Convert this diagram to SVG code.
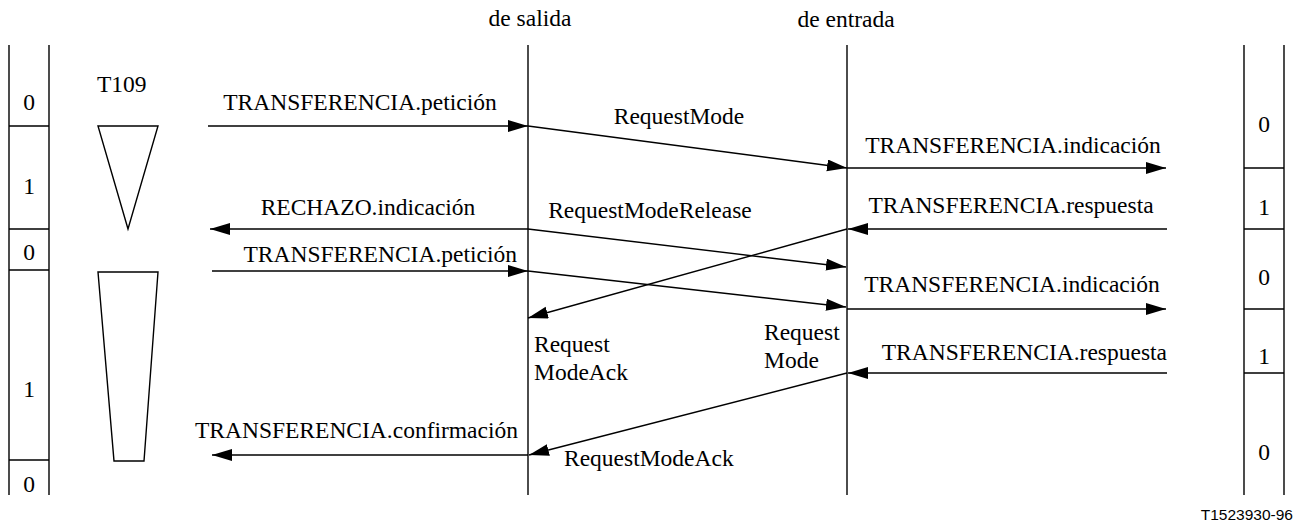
<svg xmlns="http://www.w3.org/2000/svg" width="1307" height="526" viewBox="0 0 1307 526">
<style>
text{font-family:"Liberation Serif","Times New Roman",serif;font-size:23.5px;fill:#000}
.m{text-anchor:middle}.e{text-anchor:end}
.ln{stroke:#000;stroke-width:1.4;fill:none}
.ar{stroke:#000;stroke-width:1.4;fill:none;marker-end:url(#ah)}
.code{font-family:"Liberation Sans",Arial,sans-serif;font-size:15.5px}
</style>
<defs>
<marker id="ah" markerUnits="userSpaceOnUse" markerWidth="22" markerHeight="14" refX="20" refY="6" orient="auto">
<path d="M0,0 L20,6 L0,12 Z" fill="#000"/>
</marker>
</defs>
<g id="header">
<text class="m" x="530" y="26">de salida</text>
<text class="m" x="846" y="27">de entrada</text>
</g>
<g id="left-column">
<path class="ln" d="M9,45 V495 M49,45 V495 M9,126 H49 M9,229 H49 M9,270 H49 M9,460 H49"/>
<text class="m" x="29" y="110">0</text>
<text class="m" x="29" y="194">1</text>
<text class="m" x="29" y="260">0</text>
<text class="m" x="29" y="397">1</text>
<text class="m" x="29" y="492">0</text>
</g>
<g id="timer">
<text x="97" y="92">T109</text>
<path class="ln" d="M98,126 H158 L128,229 Z"/>
<path class="ln" d="M98,272 H158 L144,461 H114 Z"/>
</g>
<g id="lifeline-salida"><path class="ln" d="M528,45 V495"/></g>
<g id="lifeline-entrada"><path class="ln" d="M847,45 V495"/></g>
<g id="right-column">
<path class="ln" d="M1244,45 V495 M1284,45 V495 M1244,168 H1284 M1244,229 H1284 M1244,309 H1284 M1244,373 H1284"/>
<text class="m" x="1264" y="132">0</text>
<text class="m" x="1264" y="215">1</text>
<text class="m" x="1264" y="285">0</text>
<text class="m" x="1264" y="364">1</text>
<text class="m" x="1264" y="460">0</text>
</g>
<g id="connectors">
<path class="ar" d="M208,126 H528"/>
<path class="ar" d="M528,126 L847,168"/>
<path class="ar" d="M847,168 H1166"/>
<path class="ar" d="M528,229 H210"/>
<path class="ar" d="M528,229 L846,267"/>
<path class="ar" d="M1167,229 H848"/>
<path class="ar" d="M847,229 L528,318"/>
<path class="ar" d="M212,271 H528"/>
<path class="ar" d="M528,271 L846,307"/>
<path class="ar" d="M847,309 H1166"/>
<path class="ar" d="M1167,373 H848"/>
<path class="ar" d="M847,373 L529,455"/>
<path class="ar" d="M528,455 H212"/>
</g>
<g id="labels">
<text class="m" x="360" y="110">TRANSFERENCIA.petición</text>
<text class="m" x="679" y="124">RequestMode</text>
<text class="m" x="1013" y="153">TRANSFERENCIA.indicación</text>
<text class="m" x="368" y="215">RECHAZO.indicación</text>
<text class="m" x="650" y="218">RequestModeRelease</text>
<text class="m" x="1011" y="213">TRANSFERENCIA.respuesta</text>
<text class="e" x="517" y="262">TRANSFERENCIA.petición</text>
<text class="m" x="1012" y="292">TRANSFERENCIA.indicación</text>
<text x="534" y="352">Request</text>
<text x="534" y="380">ModeAck</text>
<text x="764" y="340">Request</text>
<text x="764" y="368">Mode</text>
<text class="e" x="1167" y="360">TRANSFERENCIA.respuesta</text>
<text class="e" x="518" y="438">TRANSFERENCIA.confirmación</text>
<text x="564" y="466">RequestModeAck</text>
<text class="code e" x="1293" y="520">T1523930-96</text>
</g>
</svg>
